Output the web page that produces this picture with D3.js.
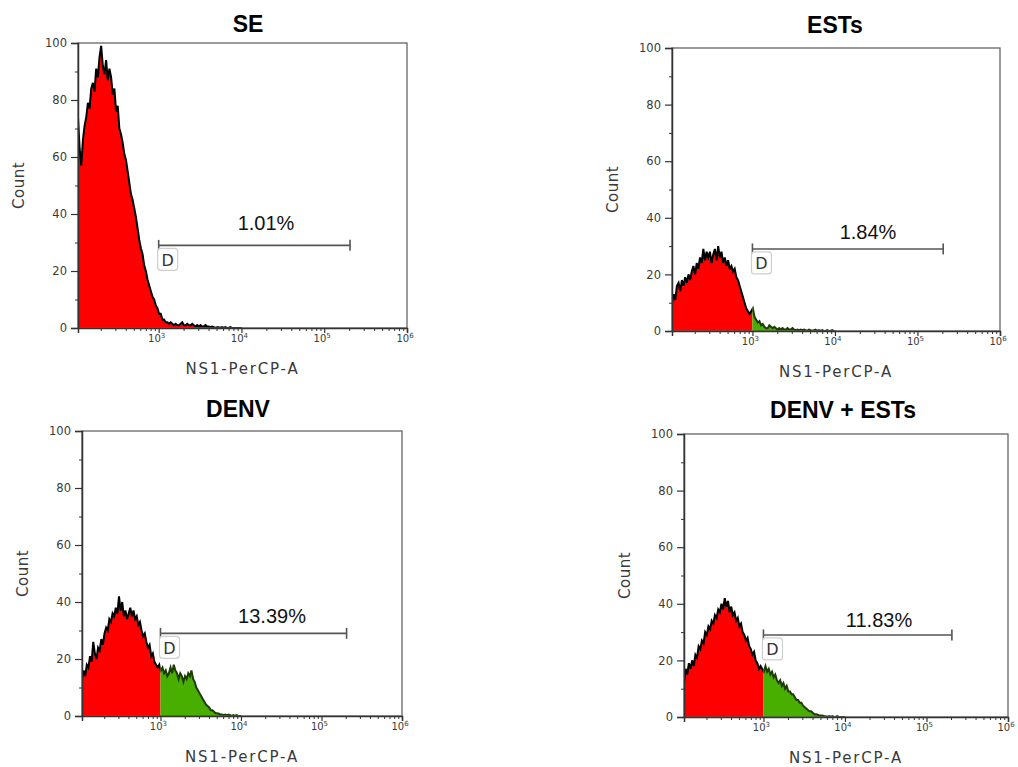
<!DOCTYPE html>
<html><head><meta charset="utf-8">
<script src="https://cdn.jsdelivr.net/npm/d3@7"></script>
<style>body{margin:0;background:#fff} svg{display:block}</style>
</head><body><svg id="c" width="1018" height="767"></svg>
<script>
// ---------- data ----------
const titles = ["SE", "ESTs", "DENV", "DENV + ESTs"];
const percents = ["1.01%", "1.84%", "13.39%", "11.83%"];
const yTicks = [0, 20, 40, 60, 80, 100];
const yMinorTicks = [10, 30, 50, 70, 90];
const xTicks = [1e3, 1e4, 1e5, 1e6];
const xTickExp = ["3", "4", "5", "6"];
const xMinorTicks = [200,300,400,500,600,700,800,900,2e3,3e3,4e3,5e3,6e3,7e3,8e3,9e3,2e4,3e4,4e4,5e4,6e4,7e4,8e4,9e4,2e5,3e5,4e5,5e5,6e5,7e5,8e5,9e5];
const xDomain = [106, 1e6];
const yDomain = [0, 100];
const gateRange = [1000, 205000];
const gateCount = 29;
const splitAt = 1000;
const binStartLog = 2.025, binStepLog = 0.02;  // histogram bin positions (log10 of NS1-PerCP-A)
const xLabel = "NS1-PerCP-A";
const yLabel = "Count";

const countsSE = [74,63,57,66,71,74,79,77,84,86,83,91,88,95,99,92,89,94,87,91,88,82,84,76,78,70,68,65,61,59,55,51,47,45,42,39,35,31,28,26,22,20,17,15,13,11,10,8,7,5,5,3,3,2,2,1.5,2,1.5,1,1.5,1,1,1.5,2,1,1,1.5,1,1,1.5,1,0.5,1,0.5,1,0.5,0.5,1,0.5,0.5,0.3,0.5,0.3,0,0.3,0.3,0,0.3,0,0.3,0,0,0.3,0,0,0,0,0,0,0];
const countsESTs = [10,13,11,16,17,14,18,16,19,17,20,18,21,23,20,24,22,26,24,29,25,28,26,28,24,27,29,25,30,26,28,24,26,23,25,22,23,21,22,19,18,16,14,12,10,8,7,6,7,8,5,4,3,3.5,2,2.5,1.5,1,1,2,1.5,1,1.5,1,0.5,1,0.5,1,0.5,0.5,1,0.5,0.5,1,0.5,0.3,0.5,0.3,0.5,0.3,0.5,0.3,0,0.5,0.3,0,0.3,0.5,0,0.3,0,0.3,0,0,0.3,0,0,0.3,0,0];
const countsDENV = [13,16,14,18,17,21,19,26,22,20,24,23,27,25,29,31,30,34,33,36,35,38,36,42,37,40,35,37,34,36,38,35,37,34,35,32,33,30,28,29,26,24,25,21,22,19,18,17,18,16,17,15,16,14,15,17,15,18,16,15,13,15,14,12,14,13,15,14,16,13,12,10,9,8,7,6,5,4,3.5,3,2,2,1.5,1,1,0.8,0.5,0.5,0.3,0.5,0.3,0.5,0.3,0,0.3,0,0.3,0,0,0];
const countsDENVESTs = [12,17,15,19,17,20,18,22,21,25,24,27,26,30,29,32,31,34,33,36,35,38,37,40,38,42,39,41,37,39,36,37,34,35,32,33,30,29,27,28,25,24,22,23,20,19,17,18,17,16,18,16,17,15,16,14,15,13,12,13,11,12,10,11,9,9,8,8,7,6,6,5,5,4,3.5,3,2.5,2,2,1.5,1,1,0.8,0.5,0.5,0.5,0.3,0.3,0,0.3,0,0.3,0,0,0.3,0,0,0,0,0];
const seriesCounts = [countsSE, countsESTs, countsDENV, countsDENVESTs];
const gateColoured = [false, true, true, true];

// ---------- layout / style ----------
const layout = [
  {L:78,  T:43,  R:407,  B:328, tx:248, ty:32,  lx:266, ly:230},
  {L:672, T:48,  R:1000, B:331, tx:835, ty:33,  lx:868, ly:239},
  {L:82,  T:431, R:402,  B:716, tx:238, ty:417, lx:272, ly:623},
  {L:684, T:434, R:1008, B:717, tx:843, ty:418, lx:879, ly:627}
];
const RED = "#ff0000", GREEN = "#48ae00", OUT_RED = "#000", OUT_GREEN = "#1c3d00";
const AXIS = "#333", LABEL = "#3a3a3a";
const sansUI = "'DejaVu Sans', sans-serif";
const arial = "'Liberation Sans', Arial, sans-serif";

const svg = d3.select("#c");
const defs = svg.append("defs");

layout.forEach((p, k) => {
  const x = d3.scaleLog().domain(xDomain).range([p.L, p.R]);
  const y = d3.scaleLinear().domain(yDomain).range([p.B, p.T]);
  const g = svg.append("g");

  const xs = x(splitAt);
  defs.append("clipPath").attr("id", "all"+k).append("rect")
    .attr("x", p.L).attr("y", p.T).attr("width", p.R-p.L).attr("height", p.B-p.T);
  defs.append("clipPath").attr("id", "lo"+k).append("rect")
    .attr("x", p.L).attr("y", p.T-2).attr("width", xs-p.L).attr("height", p.B-p.T+2);
  defs.append("clipPath").attr("id", "hi"+k).append("rect")
    .attr("x", xs).attr("y", p.T-2).attr("width", p.R-xs).attr("height", p.B-p.T+2);

  const pts = seriesCounts[k].map((v, i) => ({x: Math.pow(10, binStartLog + i*binStepLog), v}));
  const area = d3.area().x(d => x(d.x)).y0(y(0)).y1(d => y(d.v));
  const line = d3.line().x(d => x(d.x)).y(d => y(d.v));

  const hist = g.append("g").attr("clip-path", `url(#all${k})`);
  const parts = gateColoured[k]
    ? [["lo", RED, OUT_RED], ["hi", GREEN, OUT_GREEN]]
    : [["all", RED, OUT_RED]];
  parts.forEach(([cid, fill, stroke]) => {
    const h = hist.append("g").attr("clip-path", `url(#${cid}${k})`);
    h.append("path").datum(pts).attr("d", area).attr("fill", fill);
    h.append("path").datum(pts).attr("d", line).attr("fill", "none")
      .attr("stroke", stroke).attr("stroke-width", 2).attr("stroke-linejoin", "miter");
  });

  // frame
  g.append("rect").attr("x", p.L).attr("y", p.T).attr("width", p.R-p.L).attr("height", p.B-p.T)
    .attr("fill", "none").attr("stroke", "#666").attr("stroke-width", 1.3);

  // y axis
  const ya = g.append("g").attr("transform", `translate(${p.L},0)`)
    .call(d3.axisLeft(y).tickValues(yTicks).tickSize(7).tickPadding(4));
  ya.select(".domain").attr("stroke", AXIS).attr("stroke-width", 1.5);
  ya.selectAll(".tick line").attr("stroke", AXIS).attr("stroke-width", 1.2);
  ya.selectAll(".tick text").attr("font-family", sansUI).attr("font-size", 11.5).attr("fill", LABEL);
  const ym = g.append("g").attr("transform", `translate(${p.L},0)`)
    .call(d3.axisLeft(y).tickValues(yMinorTicks).tickSize(3).tickFormat(""));
  ym.select(".domain").remove();
  ym.selectAll(".tick line").attr("stroke", AXIS).attr("stroke-width", 1);

  // x axis
  const xa = g.append("g").attr("transform", `translate(0,${p.B})`)
    .call(d3.axisBottom(x).tickValues(xTicks).tickSize(5).tickFormat(""));
  xa.select(".domain").attr("stroke", AXIS).attr("stroke-width", 1.5);
  xa.selectAll(".tick line").attr("stroke", AXIS).attr("stroke-width", 1.2);
  const xm = g.append("g").attr("transform", `translate(0,${p.B})`)
    .call(d3.axisBottom(x).tickValues(xMinorTicks).tickSize(3).tickFormat(""));
  xm.select(".domain").remove();
  xm.selectAll(".tick line").attr("stroke", AXIS).attr("stroke-width", 1);
  xTicks.forEach((t, i) => {
    const tx = g.append("text").attr("x", x(t) - 2).attr("y", p.B + 14)
      .attr("text-anchor", "middle").attr("font-family", sansUI).attr("font-size", 10).attr("fill", LABEL);
    tx.append("tspan").text("10");
    tx.append("tspan").attr("dy", -4).attr("font-size", 7).text(xTickExp[i]);
  });

  // axis titles
  g.append("text").attr("x", (p.L+p.R)/2).attr("y", p.B + 46).attr("text-anchor", "middle")
    .attr("font-family", sansUI).attr("font-size", 15).attr("letter-spacing", 1.8)
    .attr("fill", LABEL).text(xLabel);
  g.append("text").attr("transform", `translate(${p.L-54},${(p.T+p.B)/2}) rotate(-90)`)
    .attr("text-anchor", "middle").attr("font-family", sansUI).attr("font-size", 15)
    .attr("letter-spacing", 0.5).attr("fill", LABEL).text(yLabel);

  // title
  g.append("text").attr("x", p.tx).attr("y", p.ty).attr("text-anchor", "middle")
    .attr("font-family", arial).attr("font-weight", "bold").attr("font-size", 23)
    .attr("fill", "#000").text(titles[k]);

  // gate
  const gx0 = x(gateRange[0]), gx1 = x(gateRange[1]), gy = y(gateCount);
  g.append("line").attr("x1", gx0).attr("x2", gx1).attr("y1", gy).attr("y2", gy)
    .attr("stroke", "#555").attr("stroke-width", 1.6);
  [gx0, gx1].forEach(xx => g.append("line").attr("x1", xx).attr("x2", xx)
    .attr("y1", gy-5.5).attr("y2", gy+5.5).attr("stroke", "#555").attr("stroke-width", 1.6));
  g.append("rect").attr("x", gx0-1).attr("y", gy+3).attr("width", 20).attr("height", 22)
    .attr("rx", 3).attr("fill", "#fff").attr("fill-opacity", 0.85)
    .attr("stroke", "#cfcfcf").attr("stroke-width", 1.2);
  g.append("text").attr("x", gx0+9).attr("y", gy+20.5).attr("text-anchor", "middle")
    .attr("font-family", sansUI).attr("font-size", 16).attr("fill", "#333").text("D");

  // percentage
  g.append("text").attr("x", p.lx).attr("y", p.ly).attr("text-anchor", "middle")
    .attr("font-family", arial).attr("font-size", 20).attr("fill", "#111").text(percents[k]);
});
</script>
</body></html>
